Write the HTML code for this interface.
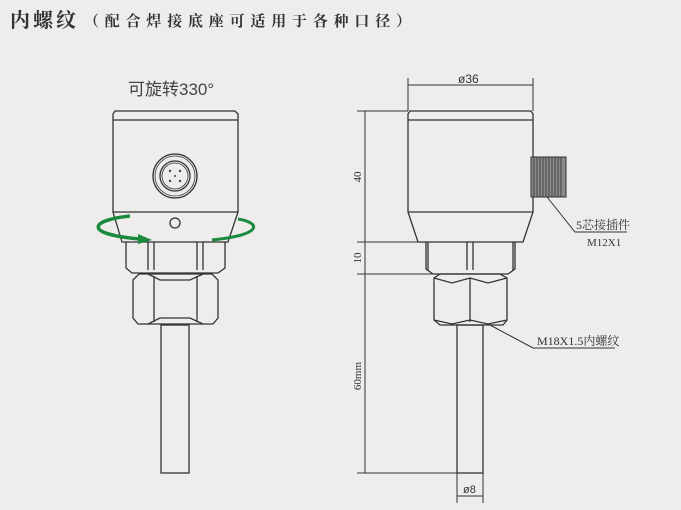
<!DOCTYPE html>
<html><head><meta charset="utf-8"><style>
body{margin:0;background:#eeedeb;}
svg{display:block}
text{font-family:"Liberation Sans","Noto Sans CJK SC",sans-serif;}
.t{font-family:"Liberation Serif","Noto Serif CJK SC",serif;}
</style></head><body>
<svg width="681" height="510" viewBox="0 0 681 510" xmlns="http://www.w3.org/2000/svg">
<rect width="681" height="510" fill="#eeedeb"/>
<text x="10" y="27" class="t" font-size="20" font-weight="bold" fill="#333" letter-spacing="3">内螺纹</text>
<text x="84" y="26" class="t" font-size="15" font-weight="bold" fill="#333" letter-spacing="5.8">（配合焊接底座可适用于各种口径）</text>
<text x="128" y="95" font-size="17" fill="#444">可旋转330°</text>
<g fill="none" stroke="#333" stroke-width="1.3">
<path d="M115,111 L235,111 L238,114 L238,212 L113,212 L113,114 Z"/>
<line x1="113" y1="120" x2="238" y2="120"/>
<path d="M113,212 L122,242 L228,242 L238,212"/>
<circle cx="175" cy="176" r="22"/><circle cx="175" cy="176" r="20" stroke-width="0.8"/><circle cx="175" cy="176" r="15"/><circle cx="175" cy="176" r="13" stroke-width="0.8"/>
<circle cx="175" cy="223" r="5"/>
<path d="M126,242 L126,268 L132,273 L218,273 L225,268 L225,242"/>
<line x1="148" y1="242" x2="148" y2="270"/><line x1="154" y1="242" x2="154" y2="270"/>
<line x1="197" y1="242" x2="197" y2="270"/><line x1="203" y1="242" x2="203" y2="270"/>
<path d="M133,280 L133,318 L138,324 L213,324 L218,318 L218,280 L212,274 L139,274 Z"/>
<path d="M154,276 L154,322 M197,276 L197,322 M148,274 L160,280 L190,280 L203,274 M148,324 L160,318 L190,318 L203,324"/>
<rect x="161" y="325" width="28" height="148"/>
<path d="M410,111 L531,111 L533,114 L533,212 L523,242 L418,242 L408,212 L408,114 Z"/>
<line x1="408" y1="120" x2="533" y2="120"/>
<line x1="408" y1="212" x2="533" y2="212"/>
<path d="M426,242 L426,269 L433,274 L508,274 L515,269 L515,242"/>
<line x1="428" y1="242" x2="428" y2="270"/><line x1="467" y1="242" x2="467" y2="270"/><line x1="473" y1="242" x2="473" y2="270"/><line x1="513" y1="242" x2="513" y2="270"/>
<path d="M434,278 L434,320 L440,325 L503,325 L507,320 L507,278 L500,274 L440,274 Z M470,278 L470,322 M434,278 L452,283 L470,278 L488,283 L507,278 M434,320 L452,324 L470,320 L488,324 L507,320"/>
<rect x="457" y="325" width="26" height="148"/>
</g>
<g fill="#444"><circle cx="170" cy="171" r="1.2"/><circle cx="180" cy="171" r="1.2"/><circle cx="170" cy="181" r="1.2"/><circle cx="180" cy="181" r="1.2"/><circle cx="175" cy="176" r="1"/></g>
<rect x="531" y="157" width="35" height="40" fill="#8a8a8a" stroke="#333"/>
<g stroke="#333" stroke-width="0.8">
<path d="M534,157v40M537,157v40M540,157v40M543,157v40M546,157v40M549,157v40M552,157v40M555,157v40M558,157v40M561,157v40"/>
</g>
<g fill="none" stroke="#333" stroke-width="1">
<line x1="408" y1="78" x2="408" y2="111"/><line x1="533" y1="78" x2="533" y2="111"/>
<line x1="408" y1="85" x2="533" y2="85"/>
<line x1="365" y1="111" x2="365" y2="473"/>
<line x1="357" y1="111" x2="408" y2="111"/>
<line x1="357" y1="242" x2="426" y2="242"/>
<line x1="357" y1="274" x2="434" y2="274"/>
<line x1="357" y1="473" x2="483" y2="473"/>
<line x1="457" y1="473" x2="457" y2="503"/><line x1="483" y1="473" x2="483" y2="503"/>
<line x1="457" y1="496" x2="483" y2="496"/>
<path d="M547,197 L575,232 L627,232"/>
<path d="M490,325 L533,348 L615,348"/>
</g>
<text x="458" y="83" font-size="12" fill="#333">ø36</text>
<text x="463" y="493" font-size="11" fill="#333">ø8</text>
<text transform="translate(361,177) rotate(-90)" class="t" font-size="11" fill="#333" text-anchor="middle">40</text>
<text transform="translate(361,258) rotate(-90)" class="t" font-size="11" fill="#333" text-anchor="middle">10</text>
<text transform="translate(361,376) rotate(-90)" class="t" font-size="11" fill="#333" text-anchor="middle">60mm</text>
<text x="576" y="229" class="t" font-size="12" fill="#333">5芯接插件</text>
<text x="587" y="246" class="t" font-size="11" fill="#333">M12X1</text>
<text x="537" y="345" class="t" font-size="12" fill="#333">M18X1.5内螺纹</text>
<path d="M130,216 C90,220 82,234 140,239" fill="none" stroke="#1a8a3e" stroke-width="3.5"/>
<path d="M138,234 L152,240 L138,244 Z" fill="#1a8a3e"/>
<path d="M238,219 C262,223 262,235 212,240" fill="none" stroke="#1a8a3e" stroke-width="3"/>
</svg>
</body></html>
